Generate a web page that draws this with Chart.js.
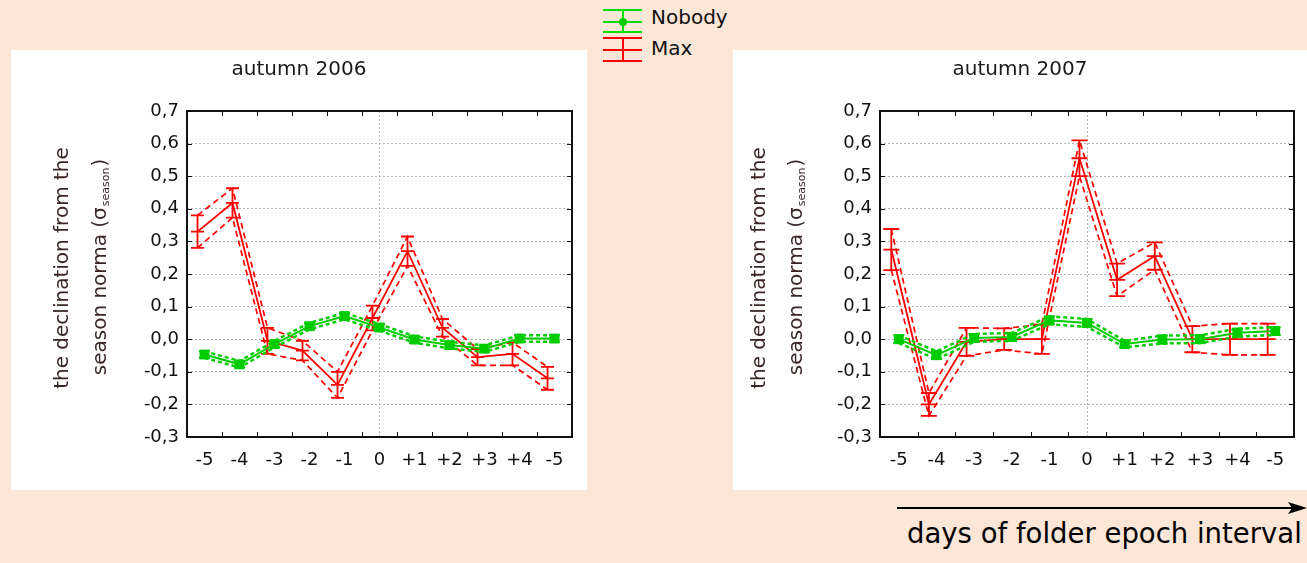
<!DOCTYPE html>
<html>
<head>
<meta charset="utf-8">
<script src="https://cdn.jsdelivr.net/npm/chart.js@4.4.1/dist/chart.umd.min.js"></script>
<style>
  body {
    margin: 0;
    width: 1307px;
    height: 563px;
    background: #fce6d7;
    position: relative;
    overflow: hidden;
    font-family: "DejaVu Sans", sans-serif;
  }
  .panel { position: absolute; top: 50px; height: 440px; background: #fff; }
  #panel2006 { left: 11px; width: 576px; }
  #panel2007 { left: 733px; width: 574px; }
  .legend-text { position: absolute; left: 651px; font-size: 20px; line-height: 20px; color: #111; }
  #axisCaption { position: absolute; left: 907px; top: 520px; font-size: 27.5px; line-height: 27px; color: #000; white-space: nowrap; }
</style>
</head>
<body>

<div class="panel" id="panel2006"><canvas id="chart2006"></canvas></div>
<div class="panel" id="panel2007"><canvas id="chart2007"></canvas></div>

<!-- shared legend -->
<svg style="position:absolute;left:600px;top:0" width="50" height="66">
  <g stroke="#00dd00" stroke-width="2">
    <line x1="3" y1="10" x2="42" y2="10"/>
    <line x1="3" y1="32" x2="42" y2="32"/>
    <line x1="3" y1="22" x2="42" y2="22"/>
    <line x1="23" y1="10" x2="23" y2="32"/>
  </g>
  <circle cx="23" cy="22" r="4" fill="#00cc00"/>
  <g stroke="#ff0000" stroke-width="2">
    <line x1="3" y1="38" x2="42" y2="38"/>
    <line x1="3" y1="61" x2="42" y2="61"/>
    <line x1="3" y1="50" x2="42" y2="50"/>
    <line x1="23" y1="38" x2="23" y2="61"/>
  </g>
</svg>
<div class="legend-text" style="top:7px">Nobody</div>
<div class="legend-text" style="top:38px">Max</div>

<!-- time direction arrow -->
<svg style="position:absolute;left:890px;top:498px" width="417" height="20">
  <line x1="7" y1="10" x2="402" y2="10" stroke="#000" stroke-width="2.2"/>
  <polygon points="398,4 417,10 398,16 402,10" fill="#000"/>
</svg>
<div id="axisCaption">days of folder epoch interval</div>

<script>
const dayLabels = ['-5', '-4', '-3', '-2', '-1', '0', '+1', '+2', '+3', '+4', '-5'];

// autumn 2006
const nobody2006 = [-0.047, -0.077, -0.015, 0.040, 0.071, 0.036, -0.001, -0.018, -0.029, 0.002, 0.002];
const nobodyErr2006 = [0.010, 0.010, 0.010, 0.010, 0.010, 0.010, 0.010, 0.010, 0.010, 0.010, 0.010];
const max2006 = [0.330, 0.418, -0.005, -0.035, -0.140, 0.065, 0.270, 0.035, -0.055, -0.045, -0.120];
const maxErr2006 = [0.050, 0.045, 0.040, 0.030, 0.040, 0.038, 0.045, 0.027, 0.025, 0.035, 0.035];

// autumn 2007
const nobody2007 = [0.000, -0.049, 0.004, 0.007, 0.058, 0.050, -0.015, -0.001, 0.000, 0.020, 0.025];
const nobodyErr2007 = [0.012, 0.012, 0.012, 0.012, 0.012, 0.012, 0.010, 0.012, 0.012, 0.012, 0.012];
const max2007 = [0.275, -0.200, -0.008, 0.000, 0.000, 0.555, 0.182, 0.255, 0.000, 0.000, 0.000];
const maxErr2007 = [0.063, 0.035, 0.043, 0.033, 0.045, 0.055, 0.050, 0.042, 0.040, 0.048, 0.048];

const MAX_SHIFT = -0.2;   // Max series sits a bit left of the day centre
const GREEN = '#00cc00';
const RED = '#ff0000';
const FONT = "'DejaVu Sans', sans-serif";

// error bars with caps, drawn right after their own dataset
const errorBars = {
  id: 'errorBars',
  afterDatasetDraw(chart, args) {
    const ds = chart.data.datasets[args.index];
    if (!ds.errors) return;
    const { ctx } = chart;
    const y = chart.scales.y;
    const h = ds.capWidth / 2;
    ctx.save();
    ctx.strokeStyle = ds.borderColor;
    ctx.lineWidth = ds.barWidth;
    args.meta.data.forEach((pt, i) => {
      const v = ds.data[i].y;
      const top = y.getPixelForValue(v + ds.errors[i]);
      const bot = y.getPixelForValue(v - ds.errors[i]);
      ctx.beginPath();
      ctx.moveTo(pt.x, top); ctx.lineTo(pt.x, bot);
      ctx.moveTo(pt.x - h, top); ctx.lineTo(pt.x + h, top);
      ctx.moveTo(pt.x - h, bot); ctx.lineTo(pt.x + h, bot);
      if (ds.midTick) { ctx.moveTo(pt.x - h, pt.y); ctx.lineTo(pt.x + h, pt.y); }
      ctx.stroke();
    });
    ctx.restore();
  }
};

// plot frame with inward tick marks
const frame = {
  id: 'frame',
  afterDraw(chart) {
    const { ctx, chartArea: a } = chart;
    const { x, y } = chart.scales;
    ctx.save();
    ctx.strokeStyle = '#111';
    ctx.lineWidth = 1;
    ctx.beginPath();
    for (let i = 0; i < dayLabels.length - 1; i++) {
      const px = Math.round(x.getPixelForValue(i + 0.5)) + 0.5;
      ctx.moveTo(px, a.top); ctx.lineTo(px, a.top + 5);
      ctx.moveTo(px, a.bottom); ctx.lineTo(px, a.bottom - 5);
    }
    y.ticks.forEach(t => {
      const py = Math.round(y.getPixelForValue(t.value)) + 0.5;
      ctx.moveTo(a.left, py); ctx.lineTo(a.left + 5, py);
      ctx.moveTo(a.right, py); ctx.lineTo(a.right - 5, py);
    });
    ctx.stroke();
    ctx.lineWidth = 2;
    ctx.strokeRect(a.left, a.top, a.right - a.left, a.bottom - a.top);
    ctx.restore();
  }
};

// panel title and the two-line rotated y caption with subscript
const panelText = {
  id: 'panelText',
  afterDraw(chart, args, opts) {
    const { ctx, chartArea: a } = chart;
    ctx.save();
    ctx.fillStyle = '#1a1a1a';
    ctx.font = `20px ${FONT}`;
    ctx.textAlign = 'center';
    ctx.textBaseline = 'middle';
    ctx.fillText(opts.title, chart.width / 2, 20);

    const yc = (a.top + a.bottom) / 2 - 6;
    ctx.fillStyle = opts.captionColor;
    ctx.translate(opts.captionX[0], yc);
    ctx.rotate(-Math.PI / 2);
    ctx.fillText('the declination from the', 0, 0);
    ctx.restore();

    ctx.save();
    ctx.fillStyle = opts.captionColor;
    ctx.translate(opts.captionX[1], yc);
    ctx.rotate(-Math.PI / 2);
    ctx.textAlign = 'left';
    ctx.textBaseline = 'middle';
    const main = 'season norma (σ';
    const sub = 'season';
    ctx.font = `20px ${FONT}`;
    const w1 = ctx.measureText(main).width;
    const w3 = ctx.measureText(')').width;
    ctx.font = `11px ${FONT}`;
    const w2 = ctx.measureText(sub).width;
    const x0 = -(w1 + w2 + w3) / 2;
    ctx.font = `20px ${FONT}`;
    ctx.fillText(main, x0, 0);
    ctx.font = `11px ${FONT}`;
    ctx.fillText(sub, x0 + w1 + 1, 5);
    ctx.font = `20px ${FONT}`;
    ctx.fillText(')', x0 + w1 + w2 + 2, 0);
    ctx.restore();
  }
};

function points(values, shift) {
  return values.map((v, i) => ({ x: i + shift, y: v }));
}
function band(values, errs, sign, shift) {
  return values.map((v, i) => ({ x: i + shift, y: v + sign * errs[i] }));
}

function buildPanel(canvasId, title, nobody, nobodyErr, max, maxErr, layout) {
  const bandLine = (color, dash, width) => ({
    borderColor: color, borderWidth: width, borderDash: dash,
    pointRadius: 0, fill: false, tension: 0
  });
  return new Chart(document.getElementById(canvasId), {
    type: 'line',
    data: {
      datasets: [
        { data: band(nobody, nobodyErr, 1, 0), ...bandLine(GREEN, [4, 3], 2.5) },
        { data: band(nobody, nobodyErr, -1, 0), ...bandLine(GREEN, [4, 3], 2.5) },
        {
          label: 'Nobody',
          data: points(nobody, 0),
          borderColor: GREEN, backgroundColor: GREEN, borderWidth: 2,
          pointStyle: 'rect', pointRadius: 7, pointBorderWidth: 0,
          errors: nobodyErr, capWidth: 11, barWidth: 2, midTick: false
        },
        { data: band(max, maxErr, 1, MAX_SHIFT), ...bandLine(RED, [6, 4], 1.7) },
        { data: band(max, maxErr, -1, MAX_SHIFT), ...bandLine(RED, [6, 4], 1.7) },
        {
          label: 'Max',
          data: points(max, MAX_SHIFT),
          borderColor: RED, backgroundColor: RED, borderWidth: 1.8,
          pointRadius: 0,
          errors: maxErr, capWidth: layout.capWidth, barWidth: 1.8, midTick: true
        }
      ]
    },
    options: {
      responsive: true,
      maintainAspectRatio: false,
      animation: false,
      layout: { padding: { top: 61, right: layout.padRight, bottom: 0, left: 0 } },
      plugins: {
        legend: false,
        tooltip: { enabled: false },
        panelText: { title: title, captionX: layout.captionX, captionColor: '#3a2626' }
      },
      scales: {
        x: {
          type: 'linear',
          min: -0.5,
          max: dayLabels.length - 0.5,
          afterBuildTicks: s => { s.ticks = dayLabels.map((_, i) => ({ value: i })); },
          afterFit: s => { s.height = 53; },
          grid: {
            drawTicks: false,
            color: c => (c.tick && c.tick.value === 5 ? '#b4b4b4' : 'rgba(0,0,0,0)'),
            lineWidth: 1
          },
          border: { display: false, dash: [2, 2] },
          ticks: {
            padding: 13,
            autoSkip: false,
            maxRotation: 0,
            color: '#111',
            font: { family: FONT, size: 18 },
            callback: v => dayLabels[v]
          }
        },
        y: {
          min: -0.3,
          max: 0.7,
          afterFit: s => { s.width = layout.axisWidth; },
          grid: { drawTicks: false, color: '#b4b4b4', lineWidth: 1 },
          border: { display: false, dash: [2, 2] },
          ticks: {
            stepSize: 0.1,
            padding: 8,
            color: '#111',
            font: { family: FONT, size: 18 },
            callback: v => (Math.abs(v) < 1e-9 ? '0,0' : v.toFixed(1).replace('.', ','))
          }
        }
      }
    },
    plugins: [errorBars, frame, panelText]
  });
}

buildPanel('chart2006', 'autumn 2006', nobody2006, nobodyErr2006, max2006, maxErr2006,
  { axisWidth: 176, padRight: 15, captionX: [52, 90], capWidth: 13 });
buildPanel('chart2007', 'autumn 2007', nobody2007, nobodyErr2007, max2007, maxErr2007,
  { axisWidth: 147, padRight: 13, captionX: [27, 64], capWidth: 16 });
</script>
</body>
</html>
